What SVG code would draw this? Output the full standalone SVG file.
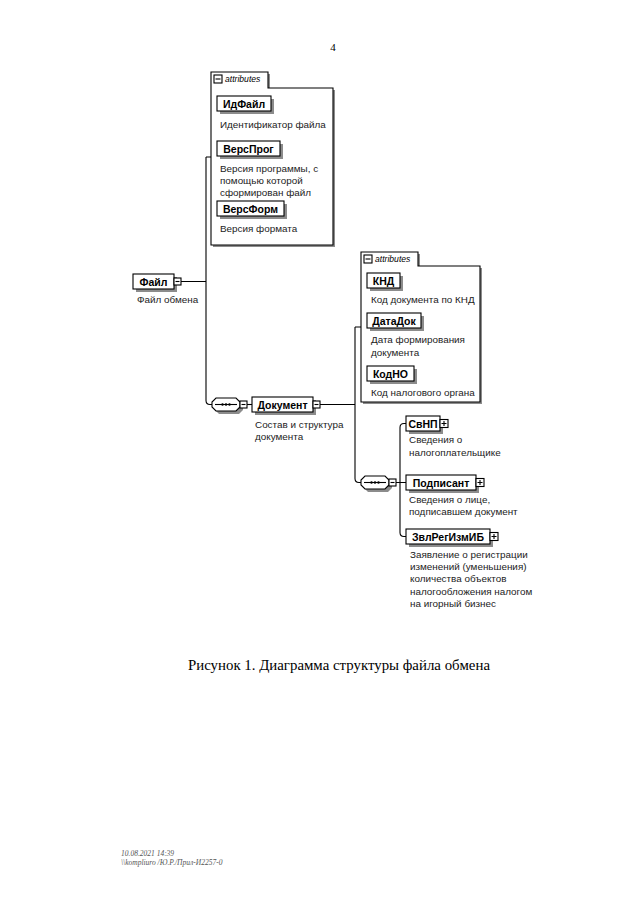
<svg xmlns="http://www.w3.org/2000/svg" width="640" height="905" viewBox="0 0 640 905">
<style>
.bx{fill:#fff;stroke:#000;stroke-width:1.1}
.sh{fill:#8c8c8c}
.nm{font-family:"Liberation Sans",Arial,sans-serif;font-weight:bold;font-size:10.5px;fill:#000;text-anchor:middle}
.ds{font-family:"Liberation Sans",Arial,sans-serif;font-size:9.9px;fill:#222}
.at{font-family:"Liberation Sans",Arial,sans-serif;font-style:italic;font-size:8.6px;fill:#000}
.ln{fill:none;stroke:#000;stroke-width:1.1}
.ft{font-family:"Liberation Serif","Times New Roman",serif;font-style:italic;font-size:7.5px;fill:#555}
</style>
<rect width="640" height="905" fill="#fff"/>
<text x="333" y="51" font-family="Liberation Serif,serif" font-size="11" fill="#000" text-anchor="middle">4</text>

<g id="connectors">
<path class="ln" d="M181,281.5 H206 M206,157 H211 M206,157 V400.5 Q206,404.5 210,404.5 H212"/>
<path class="ln" d="M247,404.5 H252"/>
<path class="ln" d="M320,404.5 H355 M355,327 H361 M355,327 V478.5 Q355,482.5 359,482.5 H361"/>
<path class="ln" d="M396,482.5 H406 M406,423.5 H404 Q400,423.5 400,427.5 V532.5 Q400,536.5 404,536.5 H406"/>
</g>

<g id="attributes1">
<path class="sh" d="M213,247 V74 H270 V90 H335 V247 Z"/>
<path class="bx" d="M211,245 V72 H268 V88 H333 V245 Z"/>
<rect class="bx" x="214" y="75" width="8" height="8"/>
<path class="ln" d="M215.5,79 H220.5"/>
<text class="at" x="225" y="82">attributes</text>
</g>

<g id="ИдФайл">
<rect class="sh" x="220" y="99" width="54" height="15"/>
<rect class="bx" x="217" y="96" width="54" height="15"/>
<text class="nm" x="244" y="107.5">ИдФайл</text>
<text class="ds" x="220" y="128">Идентификатор файла</text>
</g>
<g id="ВерсПрог">
<rect class="sh" x="220" y="144" width="63" height="15"/>
<rect class="bx" x="217" y="141" width="63" height="15"/>
<text class="nm" x="248.5" y="152.5">ВерсПрог</text>
<text class="ds" x="220" y="171.5">Версия программы, с</text>
<text class="ds" x="220" y="183.5">помощью которой</text>
<text class="ds" x="220" y="195.5">сформирован файл</text>
</g>
<g id="ВерсФорм">
<rect class="sh" x="220" y="204" width="67" height="15"/>
<rect class="bx" x="217" y="201" width="67" height="15"/>
<text class="nm" x="250.5" y="212.5">ВерсФорм</text>
<text class="ds" x="220" y="231.5">Версия формата</text>
</g>

<g id="Файл">
<rect class="sh" x="136" y="277" width="41" height="15"/>
<rect class="bx" x="133" y="274" width="41" height="15"/>
<text class="nm" x="153.5" y="285.5">Файл</text>
<rect class="bx" x="174" y="278" width="7" height="7"/>
<path class="ln" d="M175.5,281.5 H179.5"/>
<text class="ds" x="137" y="303">Файл обмена</text>
</g>

<g id="sequence1">
<path class="sh" d="M219,401 H239 L243,405 V410 L239,414 H219 L215,410 V405 Z"/>
<path class="bx" d="M216,398 H236 L240,402 V407 L236,411 H216 L212,407 V402 Z"/>
<path class="ln" d="M215,404.5 H237"/>
<circle cx="222.5" cy="404.5" r="1.2"/><circle cx="226" cy="404.5" r="1.2"/><circle cx="229.5" cy="404.5" r="1.2"/>
<rect class="bx" x="240" y="401" width="7" height="7"/>
<path class="ln" d="M241.5,404.5 H245.5"/>
</g>

<g id="Документ">
<rect class="sh" x="255" y="400" width="61" height="15"/>
<rect class="bx" x="252" y="397" width="61" height="15"/>
<text class="nm" x="282.5" y="408.5">Документ</text>
<rect class="bx" x="313" y="401" width="7" height="7"/>
<path class="ln" d="M314.5,404.5 H318.5"/>
<text class="ds" x="255" y="428">Состав и структура</text>
<text class="ds" x="255" y="440">документа</text>
</g>

<g id="attributes2">
<path class="sh" d="M363,404 V254 H420 V268 H482 V404 Z"/>
<path class="bx" d="M361,402 V252 H418 V266 H480 V402 Z"/>
<rect class="bx" x="364" y="255" width="8" height="8"/>
<path class="ln" d="M365.5,259 H370.5"/>
<text class="at" x="375" y="262">attributes</text>
</g>

<g id="КНД">
<rect class="sh" x="370" y="276" width="33" height="15"/>
<rect class="bx" x="367" y="273" width="33" height="15"/>
<text class="nm" x="383.5" y="284.5">КНД</text>
<text class="ds" x="371" y="303">Код документа по КНД</text>
</g>
<g id="ДатаДок">
<rect class="sh" x="370" y="316" width="54" height="15"/>
<rect class="bx" x="367" y="313" width="54" height="15"/>
<text class="nm" x="394" y="324.5">ДатаДок</text>
<text class="ds" x="371" y="343">Дата формирования</text>
<text class="ds" x="371" y="356">документа</text>
</g>
<g id="КодНО">
<rect class="sh" x="370" y="369" width="47" height="15"/>
<rect class="bx" x="367" y="366" width="47" height="15"/>
<text class="nm" x="390.5" y="377.5">КодНО</text>
<text class="ds" x="371" y="396">Код налогового органа</text>
</g>

<g id="sequence2">
<path class="sh" d="M368,479 H388 L392,483 V488 L388,492 H368 L364,488 V483 Z"/>
<path class="bx" d="M365,476 H385 L389,480 V485 L385,489 H365 L361,485 V480 Z"/>
<path class="ln" d="M364,482.5 H386"/>
<circle cx="371.5" cy="482.5" r="1.2"/><circle cx="375" cy="482.5" r="1.2"/><circle cx="378.5" cy="482.5" r="1.2"/>
<rect class="bx" x="389" y="479" width="7" height="7"/>
<path class="ln" d="M390.5,482.5 H394.5"/>
</g>

<g id="СвНП">
<rect class="sh" x="409" y="419" width="34" height="15"/>
<rect class="bx" x="406" y="416" width="34" height="15"/>
<text class="nm" x="423" y="427.5">СвНП</text>
<rect class="bx" x="440" y="419.5" width="8" height="8"/>
<path class="ln" d="M441.5,423.5 H446.5 M444,421 V426"/>
<text class="ds" x="409" y="443">Сведения о</text>
<text class="ds" x="409" y="456">налогоплательщике</text>
</g>
<g id="Подписант">
<rect class="sh" x="409" y="478" width="70" height="15"/>
<rect class="bx" x="406" y="475" width="70" height="15"/>
<text class="nm" x="441" y="486.5">Подписант</text>
<rect class="bx" x="476" y="478.5" width="8" height="8"/>
<path class="ln" d="M477.5,482.5 H482.5 M480,480 V485"/>
<text class="ds" x="409" y="503">Сведения о лице,</text>
<text class="ds" x="409" y="515">подписавшем документ</text>
</g>
<g id="ЗвлРегИзмИБ">
<rect class="sh" x="409" y="532" width="84" height="15"/>
<rect class="bx" x="406" y="529" width="84" height="15"/>
<text class="nm" x="448" y="540.5">ЗвлРегИзмИБ</text>
<rect class="bx" x="490" y="532.5" width="8" height="8"/>
<path class="ln" d="M491.5,536.5 H496.5 M494,534 V539"/>
<text class="ds" x="410" y="558">Заявление о регистрации</text>
<text class="ds" x="410" y="570">изменений (уменьшения)</text>
<text class="ds" x="410" y="582">количества объектов</text>
<text class="ds" x="410" y="595">налогообложения налогом</text>
<text class="ds" x="410" y="607">на игорный бизнес</text>
</g>

<text x="339" y="670" font-family="Liberation Serif,'Times New Roman',serif" font-size="15.5" fill="#000" text-anchor="middle" textLength="302" lengthAdjust="spacingAndGlyphs">Рисунок 1. Диаграмма структуры файла обмена</text>

<text class="ft" x="121" y="856">10.08.2021 14:39</text>
<text class="ft" x="121" y="865">\\kompliuro /Ю.Р./Прил-И2257-0</text>
</svg>
